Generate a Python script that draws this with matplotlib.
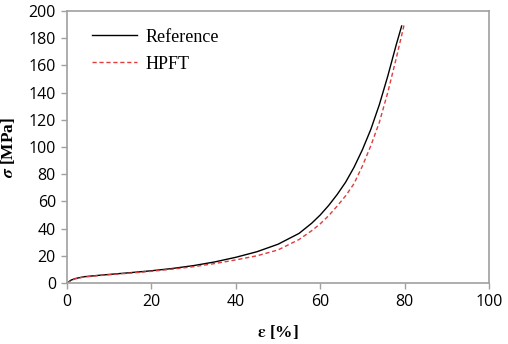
import matplotlib
matplotlib.use("Agg")
import matplotlib.pyplot as plt

plt.rcParams["mathtext.fontset"] = "stix"

ref_x = [0, 1, 2, 4, 7, 10, 15, 20, 25, 30, 35, 40, 45, 50, 55, 58, 60, 62, 64, 66, 68, 70, 72, 74, 76, 78, 79.3]
ref_y = [0, 2.2, 3.3, 4.6, 5.5, 6.3, 7.6, 9.0, 10.7, 12.8, 15.5, 18.9, 23, 28.5, 36.5, 44, 50, 57, 65, 74, 85, 98, 113, 131, 152, 175, 189]
hpft_x = [0, 1, 2, 4, 7, 10, 15, 20, 25, 30, 35, 40, 45, 50, 55, 58, 60, 62, 64, 66, 68, 70, 72, 74, 76, 78, 79.9]
hpft_y = [0, 2.0, 3.1, 4.4, 5.3, 6.1, 7.3, 8.6, 10.2, 12.0, 14.3, 17, 20, 24.3, 32, 38.5, 43.5, 49.5, 56.5, 64, 73, 86, 101, 118, 140, 165, 190]
xticks = [0, 20, 40, 60, 80, 100]
yticks = [0, 20, 40, 60, 80, 100, 120, 140, 160, 180, 200]

fig = plt.figure(figsize=(5.08, 3.44), dpi=100)
ax = fig.add_axes([0.1319, 0.1773, 0.8307, 0.7907])
ax.plot(ref_x, ref_y, color="black", lw=1.0, label="Reference")
ax.plot(hpft_x, hpft_y, color="#e03c3c", lw=1.0, ls=(0, (3, 2)), label="HPFT")
ax.set_xlim(0, 100)
ax.set_ylim(0, 200)
ax.set_xticks(xticks)
ax.set_yticks(yticks)
for s in ax.spines.values():
    s.set_color("#a0a0a0")
    s.set_linewidth(1.2)
ax.tick_params(direction="out", length=4, color="#a0a0a0", width=1,
               labelsize=11.5, pad=4)
for lab in ax.get_xticklabels() + ax.get_yticklabels():
    lab.set_fontfamily("Open Sans")
ax.set_xlabel(r"$\boldsymbol{\varepsilon}$ [%]", fontfamily="Liberation Serif",
              fontweight="bold", fontsize=12.5, labelpad=9)
ax.set_ylabel(r"$\boldsymbol{\sigma}$ [MPa]", fontfamily="Liberation Serif",
              fontweight="bold", fontsize=12.5, labelpad=8)
leg = ax.legend(loc="upper left", frameon=False, prop={"family": "Liberation Serif", "size": 13},
                handlelength=2.5, handletextpad=0.5, labelspacing=0.55,
                bbox_to_anchor=(0.02, 0.995))
fig.savefig("out.png", dpi=100)
